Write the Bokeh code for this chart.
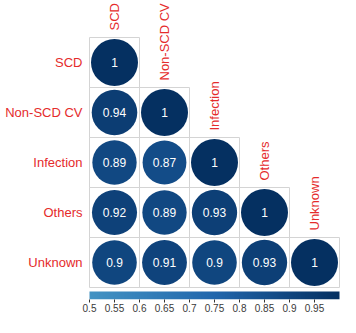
import numpy as np
from bokeh.plotting import figure
from bokeh.models import (ColumnDataSource, LinearColorMapper, LinearAxis, Range1d,
                          FixedTicker)
from bokeh.transform import linear_cmap
from bokeh.core.properties import value
from bokeh.embed import file_html
from bokeh.resources import INLINE

# ---- data -------------------------------------------------------------
categories = ["SCD", "Non-SCD CV", "Infection", "Others", "Unknown"]
row_scd = [1]
row_non_scd_cv = [0.94, 1]
row_infection = [0.89, 0.87, 1]
row_others = [0.92, 0.89, 0.93, 1]
row_unknown = [0.9, 0.91, 0.9, 0.93, 1]
rows = [row_scd, row_non_scd_cv, row_infection, row_others, row_unknown]

cbar_low, cbar_high = 0.5, 1.0
tick_labels = ["0.5", "0.55", "0.6", "0.65", "0.7", "0.75", "0.8", "0.85", "0.9", "0.95"]
ticks = [float(t) for t in tick_labels]
palette_anchors = ["#4393C3", "#2166AC", "#053061"]

# ---- palette ----------------------------------------------------------
def hex2rgb(h):
    h = h.lstrip("#")
    return [int(h[i:i + 2], 16) for i in (0, 2, 4)]

anchors = np.array([hex2rgb(c) for c in palette_anchors], dtype=float)
pos = np.linspace(0, 1, len(anchors))
grid = np.linspace(0, 1, 256)
palette = []
for g in grid:
    rgb = [np.interp(g, pos, anchors[:, k]) for k in range(3)]
    palette.append("#%02x%02x%02x" % tuple(int(round(v)) for v in rgb))

mapper = LinearColorMapper(palette=palette, low=cbar_low, high=cbar_high)

# ---- cell table -------------------------------------------------------
n = len(categories)
xs, ys, vals, txt, rad = [], [], [], [], []
for i, row in enumerate(rows):
    for j, v in enumerate(row):
        xs.append(j + 0.5)
        ys.append(n - i - 0.5)
        vals.append(v)
        txt.append(f"{v:g}")
        rad.append(0.47 * np.sqrt(abs(v)))
src = ColumnDataSource(dict(x=xs, y=ys, v=vals, t=txt, r=rad))

# ---- figure -----------------------------------------------------------
W, H = 340, 317
x0, x1 = -1.78, 5.02
y0, y1 = -0.24, 5.74
p = figure(width=W, height=H, x_range=Range1d(x0, x1), y_range=Range1d(y0, y1),
           x_axis_type=None, y_axis_type=None, output_backend="svg",
           toolbar_location=None, min_border=0, min_border_bottom=18)
p.outline_line_color = None
p.background_fill_color = "white"

font = value("Liberation Sans")
red = "#e52b2b"

# cell borders
p.rect(x="x", y="y", width=1, height=1, source=src, fill_color=None,
       line_color="#d4d4d4", line_width=1)

# circles
p.circle(x="x", y="y", radius="r", source=src,
         fill_color=linear_cmap("v", palette, cbar_low, cbar_high),
         line_color=None)

# values
p.text(x="x", y="y", text="t", source=src, text_color="white",
       text_font=font, text_font_size="12px", text_align="center",
       text_baseline="middle")

# row labels
row_src = ColumnDataSource(dict(x=[-0.14] * n, y=[n - i - 0.5 for i in range(n)],
                                t=categories))
p.text(x="x", y="y", text="t", source=row_src, text_color=red, text_font=font,
       text_font_size="13px", text_align="right", text_baseline="middle")

# column labels (above the diagonal cell)
col_src = ColumnDataSource(dict(x=[j + 0.5 for j in range(n)],
                                y=[n - j + 0.14 for j in range(n)], t=categories))
p.text(x="x", y="y", text="t", source=col_src, text_color=red, text_font=font,
       text_font_size="13px", text_align="left", text_baseline="middle",
       angle=np.pi / 2)

# colour bar
bar = np.array([np.linspace(cbar_low, cbar_high, 256)])
p.image(image=[bar], x=0, y=-0.24, dw=n, dh=0.16, color_mapper=mapper)

# colour bar axis
p.extra_x_ranges = {"cb": Range1d(cbar_low + x0 / (2 * n), cbar_low + x1 / (2 * n))}
ax = LinearAxis(x_range_name="cb", ticker=FixedTicker(ticks=ticks))
ax.major_label_overrides = dict(zip(ticks, tick_labels))
ax.axis_line_color = None
ax.major_tick_in = 0
ax.major_tick_out = 3
ax.major_tick_line_color = "#333333"
ax.minor_tick_line_color = None
ax.major_label_standoff = 1
ax.major_label_text_font = "Liberation Sans"
ax.major_label_text_font_size = "10px"
ax.major_label_text_color = "#3a3a3a"
p.add_layout(ax, "below")

open("out.html", "w").write(file_html(p, INLINE))
